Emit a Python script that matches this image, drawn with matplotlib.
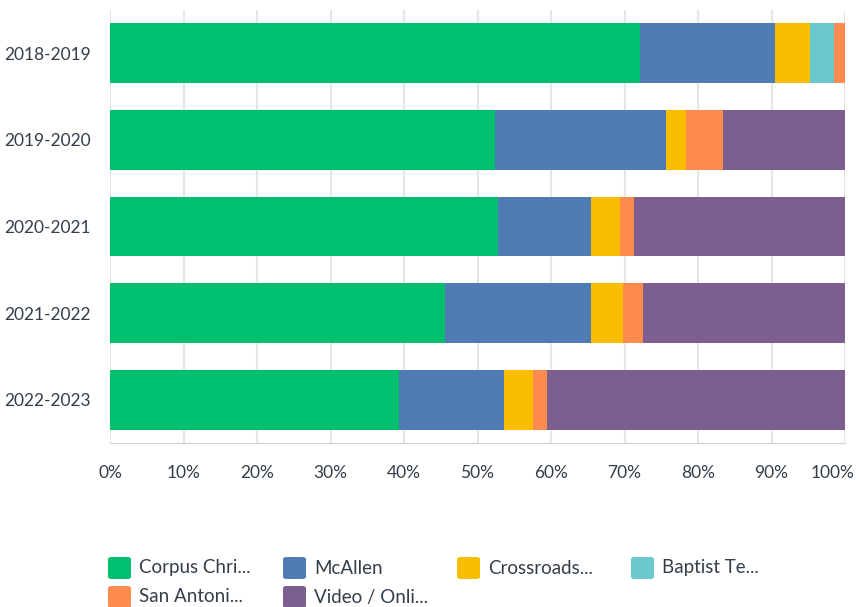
import matplotlib
matplotlib.use("Agg")
import matplotlib.pyplot as plt
from matplotlib.patches import FancyBboxPatch
from matplotlib.transforms import ScaledTranslation
import numpy as np

years = ["2018-2019", "2019-2020", "2020-2021", "2021-2022", "2022-2023"]
series = ["Corpus Chri...", "McAllen", "Crossroads...", "Baptist Te...",
          "San Antoni...", "Video / Onli..."]
corpus = [72.1, 52.4, 52.8, 45.6, 39.3]
mcallen = [18.4, 23.2, 12.6, 19.8, 14.3]
crossroads = [4.7, 2.8, 4.0, 4.4, 4.0]
baptist = [3.3, 0.0, 0.0, 0.0, 0.0]
san_antonio = [1.5, 5.0, 1.9, 2.7, 1.9]
video = [0.0, 16.6, 28.7, 27.5, 40.5]
colors = ["#00BF6F", "#507CB6", "#F9BE00", "#6BC8CD", "#FF8B4F", "#7D5E90"]

plt.rcParams["font.family"] = ["Lato", "DejaVu Sans"]
text_c = "#333E48"

fig = plt.figure(figsize=(8.59, 6.07), dpi=100)
ax = fig.add_axes([110 / 859, 1 - 443 / 607, 735 / 859, 433 / 607])

y = np.arange(len(years))
left = np.zeros(len(years))
for vals, c in zip([corpus, mcallen, crossroads, baptist, san_antonio, video], colors):
    ax.barh(y, vals, left=left, height=0.69, color=c, zorder=3)
    left += np.array(vals)

ax.set_xlim(0, 100)
ax.set_ylim(4.5, -0.5)
ax.set_xticks(range(0, 101, 10))
ax.set_xticklabels([f"{v}%" for v in range(0, 101, 10)], fontsize=12.5, color=text_c)
ax.set_yticks(y)
ax.set_yticklabels(years, fontsize=12.5, color=text_c)
ax.tick_params(axis="x", length=0, pad=16)
ax.tick_params(axis="y", length=0, pad=14)
ax.grid(axis="x", color="#E6E6E6", lw=1.5, zorder=0)
for s in ["top", "right", "left"]:
    ax.spines[s].set_visible(False)
ax.spines["bottom"].set_color("#D0D0D0")

# the last tick label sits a little left so it stays inside the figure
last = ax.get_xticklabels()[-1]
last.set_transform(last.get_transform() + ScaledTranslation(-0.12, 0, fig.dpi_scale_trans))

# legend, row-major, fixed column spacing
col_x = [108, 283, 457, 631]
row_y = [568, 597]
for i, (lab, c) in enumerate(zip(series, colors)):
    r, k = divmod(i, 4)
    px, py = col_x[k], row_y[r]
    fig.patches.append(FancyBboxPatch(
        (px / 859, (607 - py - 11) / 607), 23 / 859, 22 / 607,
        boxstyle="round,pad=0,rounding_size=0.004", transform=fig.transFigure,
        facecolor=c, edgecolor="none"))
    fig.text((px + 31) / 859, 1 - py / 607, lab, fontsize=13.5, color=text_c,
             va="center", ha="left")

fig.savefig("out.png", dpi=100)
